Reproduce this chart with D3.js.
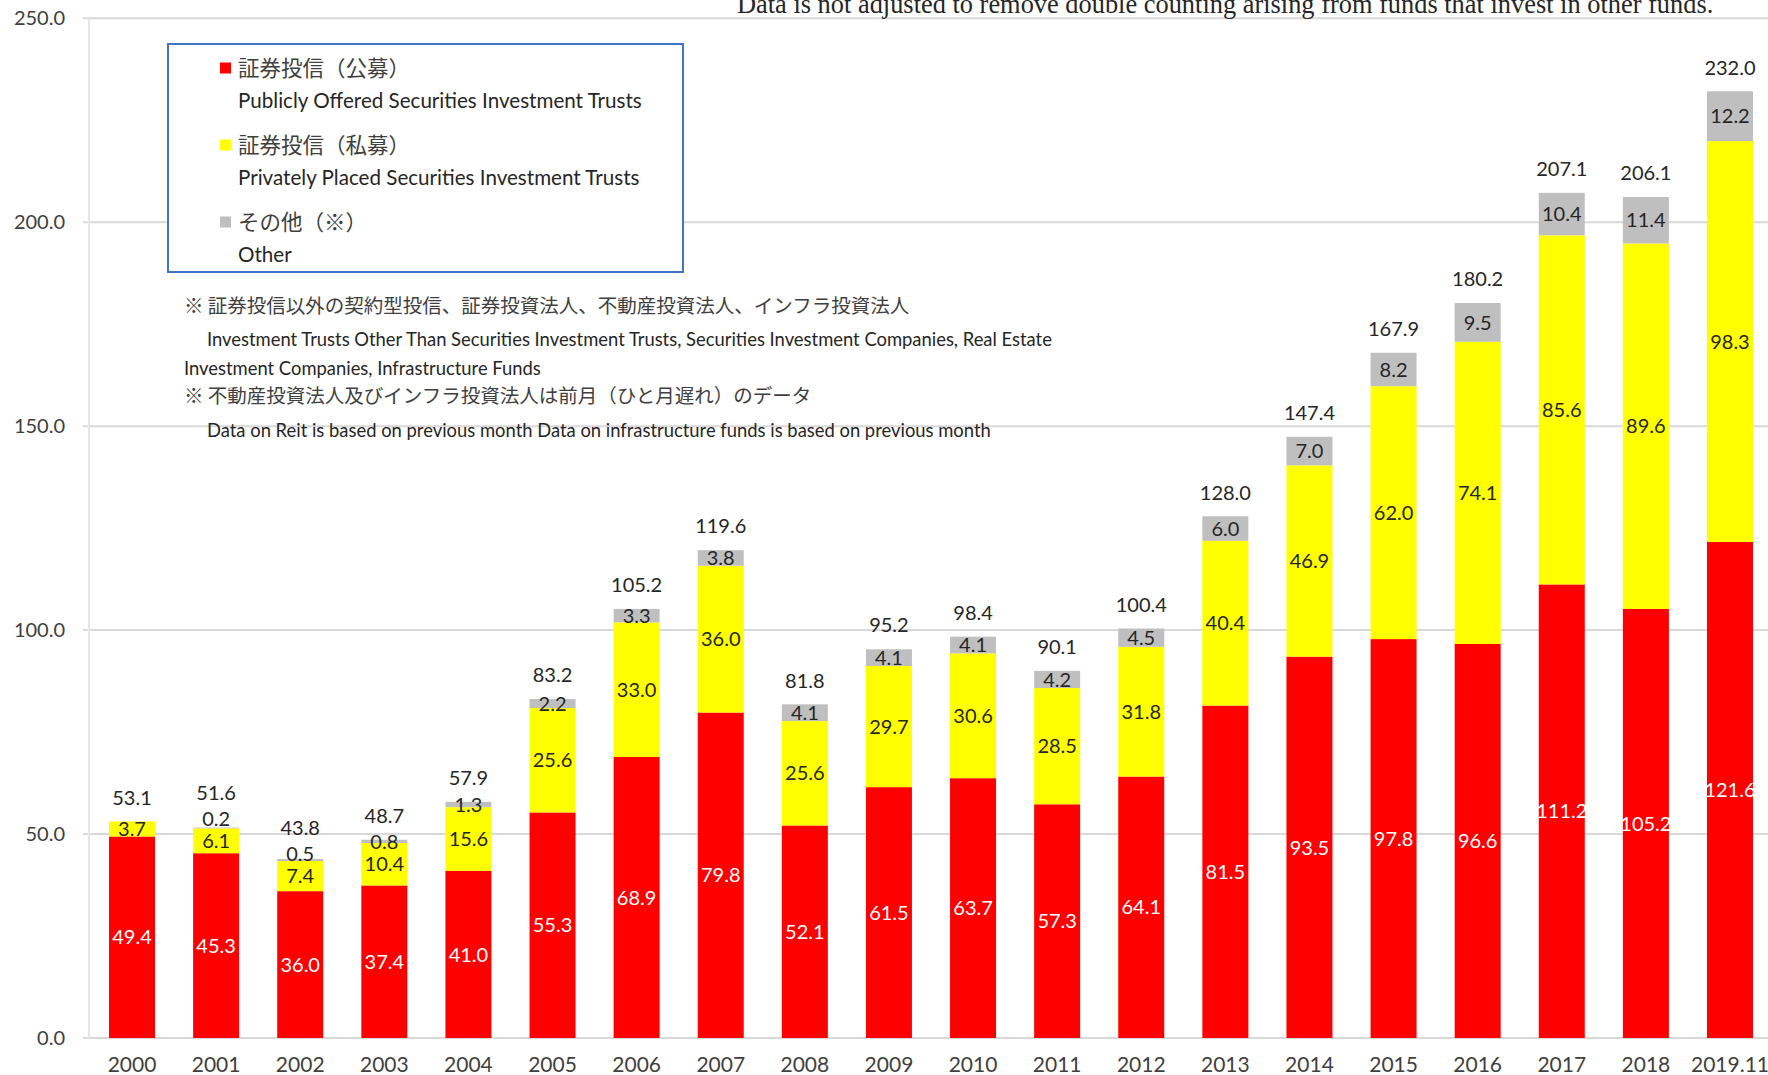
<!DOCTYPE html>
<html lang="ja">
<head>
<meta charset="UTF-8">
<title>Investment trusts net assets</title>
<script src="https://cdn.jsdelivr.net/npm/d3@7"></script>
<style>
    body { margin: 0; background: #fff; }
    svg { display: block; }
    .lab { font-family: Lato, "Noto Sans", sans-serif; font-size: 20px; }
    .axis text { font-family: Lato, "Noto Sans", sans-serif; fill: #404040; }
    .axis path, .axis line { display: none; }
    .jp { font-family: "Noto Sans CJK JP", sans-serif; fill: #404040; }
    .en { font-family: Lato, "Noto Sans", sans-serif; fill: #262626; }
</style>
</head>
<body>
<svg id="chart" width="1768" height="1075"></svg>
<script>
// values in trillion yen
var years = ["2000", "2001", "2002", "2003", "2004", "2005", "2006", "2007", "2008", "2009",
    "2010", "2011", "2012", "2013", "2014", "2015", "2016", "2017", "2018", "2019.11"];
var publicTrusts = [49.4, 45.3, 36.0, 37.4, 41.0, 55.3, 68.9, 79.8, 52.1, 61.5,
    63.7, 57.3, 64.1, 81.5, 93.5, 97.8, 96.6, 111.2, 105.2, 121.6];
var privateTrusts = [3.7, 6.1, 7.4, 10.4, 15.6, 25.6, 33.0, 36.0, 25.6, 29.7,
    30.6, 28.5, 31.8, 40.4, 46.9, 62.0, 74.1, 85.6, 89.6, 98.3];
var otherFunds = [0, 0.2, 0.5, 0.8, 1.3, 2.2, 3.3, 3.8, 4.1, 4.1,
    4.1, 4.2, 4.5, 6.0, 7.0, 8.2, 9.5, 10.4, 11.4, 12.2];
var totals = [53.1, 51.6, 43.8, 48.7, 57.9, 83.2, 105.2, 119.6, 81.8, 95.2,
    98.4, 90.1, 100.4, 128.0, 147.4, 167.9, 180.2, 207.1, 206.1, 232.0];
var yTicks = [0, 50, 100, 150, 200, 250];

var seriesKeys = ["pub", "priv", "oth"];
var seriesColors = { pub: "#ff0000", priv: "#ffff00", oth: "#bfbfbf" };
var seriesLabelColors = { pub: "#ffffff", priv: "#262626", oth: "#262626" };

var legendJp = ["証券投信（公募）", "証券投信（私募）", "その他（※）"];
var legendEn = ["Publicly Offered Securities Investment Trusts",
    "Privately Placed Securities Investment Trusts", "Other"];

var headerNote = "Data is not adjusted to remove double counting arising from funds that invest in other funds.";

var rows = years.map(function(y, i) {
    return { year: y, pub: publicTrusts[i], priv: privateTrusts[i], oth: otherFunds[i], total: totals[i] };
});

var svg = d3.select("#chart");

var x = d3.scaleBand()
    .domain(years)
    .range([89, 1773])
    .paddingInner(0.453)
    .paddingOuter(0.238);

var y = d3.scaleLinear()
    .domain([0, 250])
    .range([1038, 18.3]);

// gridlines
svg.append("g")
    .selectAll("line")
    .data(yTicks)
    .enter().append("line")
    .attr("x1", 83)
    .attr("x2", 1768)
    .attr("y1", function(d) { return y(d); })
    .attr("y2", function(d) { return y(d); })
    .attr("stroke", "#d9d9d9")
    .attr("stroke-width", 2);

svg.append("line")
    .attr("x1", 89).attr("x2", 89)
    .attr("y1", y(250)).attr("y2", y(0))
    .attr("stroke", "#e6e6e6")
    .attr("stroke-width", 2);

// header note, sits partly above the page
svg.append("text")
    .attr("x", 737)
    .attr("y", 13)
    .attr("font-family", "'Liberation Serif', serif")
    .attr("font-size", 26.4)
    .attr("fill", "#262626")
    .text(headerNote);

var stacked = d3.stack().keys(seriesKeys)(rows);

var layer = svg.append("g")
    .selectAll("g")
    .data(stacked)
    .enter().append("g")
    .attr("fill", function(d) { return seriesColors[d.key]; });

layer.selectAll("rect")
    .data(function(d) { return d; })
    .enter().append("rect")
    .attr("x", function(d) { return x(d.data.year); })
    .attr("y", function(d) { return y(d[1]); })
    .attr("width", x.bandwidth())
    .attr("height", function(d) { return y(d[0]) - y(d[1]); });

// label positions per bar: segment centres, total above; push up when too close
var minGap = 22;
var labels = [];
rows.forEach(function(r, i) {
    var prev = null;
    stacked.forEach(function(s) {
        var d = s[i];
        if (d[1] - d[0] <= 0) return;
        var ly = y((d[0] + d[1]) / 2);
        if (prev !== null && s.key !== "pub" && prev - ly < minGap) ly = prev - minGap;
        labels.push({ year: r.year, y: ly, fill: seriesLabelColors[s.key], v: r[s.key] });
        prev = ly;
    });
    var ty = y(r.pub + r.priv + r.oth) - 24;
    if (prev - ty < minGap + 4) ty = prev - minGap - 4;
    labels.push({ year: r.year, y: ty, fill: "#262626", v: r.total });
});

svg.append("g")
    .selectAll("text")
    .data(labels)
    .enter().append("text")
    .attr("class", "lab")
    .attr("x", function(d) { return x(d.year) + x.bandwidth() / 2; })
    .attr("y", function(d) { return d.y; })
    .attr("dy", "0.36em")
    .attr("text-anchor", "middle")
    .attr("fill", function(d) { return d.fill; })
    .text(function(d) { return d3.format(".1f")(d.v); });

// axes
svg.append("g")
    .attr("class", "axis")
    .attr("font-size", 20)
    .attr("transform", "translate(65,0)")
    .call(d3.axisLeft(y).tickValues(yTicks).tickFormat(d3.format(".1f")).tickSize(0).tickPadding(0))
    .selectAll("text").attr("font-size", 20);

svg.append("g")
    .attr("class", "axis")
    .attr("transform", "translate(0,1052)")
    .call(d3.axisBottom(x).tickSize(0).tickPadding(0))
    .selectAll("text")
    .attr("font-size", 21)
    .attr("dy", "0.95em");

// legend
var legend = svg.append("g");
legend.append("rect")
    .attr("x", 168).attr("y", 44)
    .attr("width", 515).attr("height", 228)
    .attr("fill", "#fff")
    .attr("stroke", "#4472c4")
    .attr("stroke-width", 2);

var item = legend.selectAll(".item")
    .data(seriesKeys)
    .enter().append("g")
    .attr("transform", function(d, i) { return "translate(0," + (68 + i * 77) + ")"; });

item.append("rect")
    .attr("x", 220).attr("y", -5.5)
    .attr("width", 11).attr("height", 11)
    .attr("fill", function(d) { return seriesColors[d]; });

item.append("text")
    .attr("class", "jp")
    .attr("x", 238)
    .attr("dy", "0.36em")
    .attr("font-size", 21.5)
    .text(function(d, i) { return legendJp[i]; });

item.append("text")
    .attr("class", "en")
    .attr("x", 238)
    .attr("y", 33)
    .attr("dy", "0.36em")
    .attr("font-size", 20.6)
    .text(function(d, i) { return legendEn[i]; });

// footnotes under legend
var notes = [
    { cls: "jp", x: 184, y: 306, size: 19.5, t: "※ 証券投信以外の契約型投信、証券投資法人、不動産投資法人、インフラ投資法人" },
    { cls: "en", x: 207, y: 339, size: 18.4, t: "Investment Trusts Other Than Securities Investment Trusts, Securities Investment Companies, Real Estate" },
    { cls: "en", x: 184, y: 368, size: 18.4, t: "Investment Companies, Infrastructure Funds" },
    { cls: "jp", x: 184, y: 396, size: 19.5, t: "※ 不動産投資法人及びインフラ投資法人は前月（ひと月遅れ）のデータ" },
    { cls: "en", x: 207, y: 430, size: 18.4, t: "Data on Reit is based on previous month Data on infrastructure funds is based on previous month" }
];

svg.append("g")
    .selectAll("text")
    .data(notes)
    .enter().append("text")
    .attr("class", function(d) { return d.cls; })
    .attr("x", function(d) { return d.x; })
    .attr("y", function(d) { return d.y; })
    .attr("dy", "0.36em")
    .attr("font-size", function(d) { return d.size; })
    .text(function(d) { return d.t; });
</script>
</body>
</html>
